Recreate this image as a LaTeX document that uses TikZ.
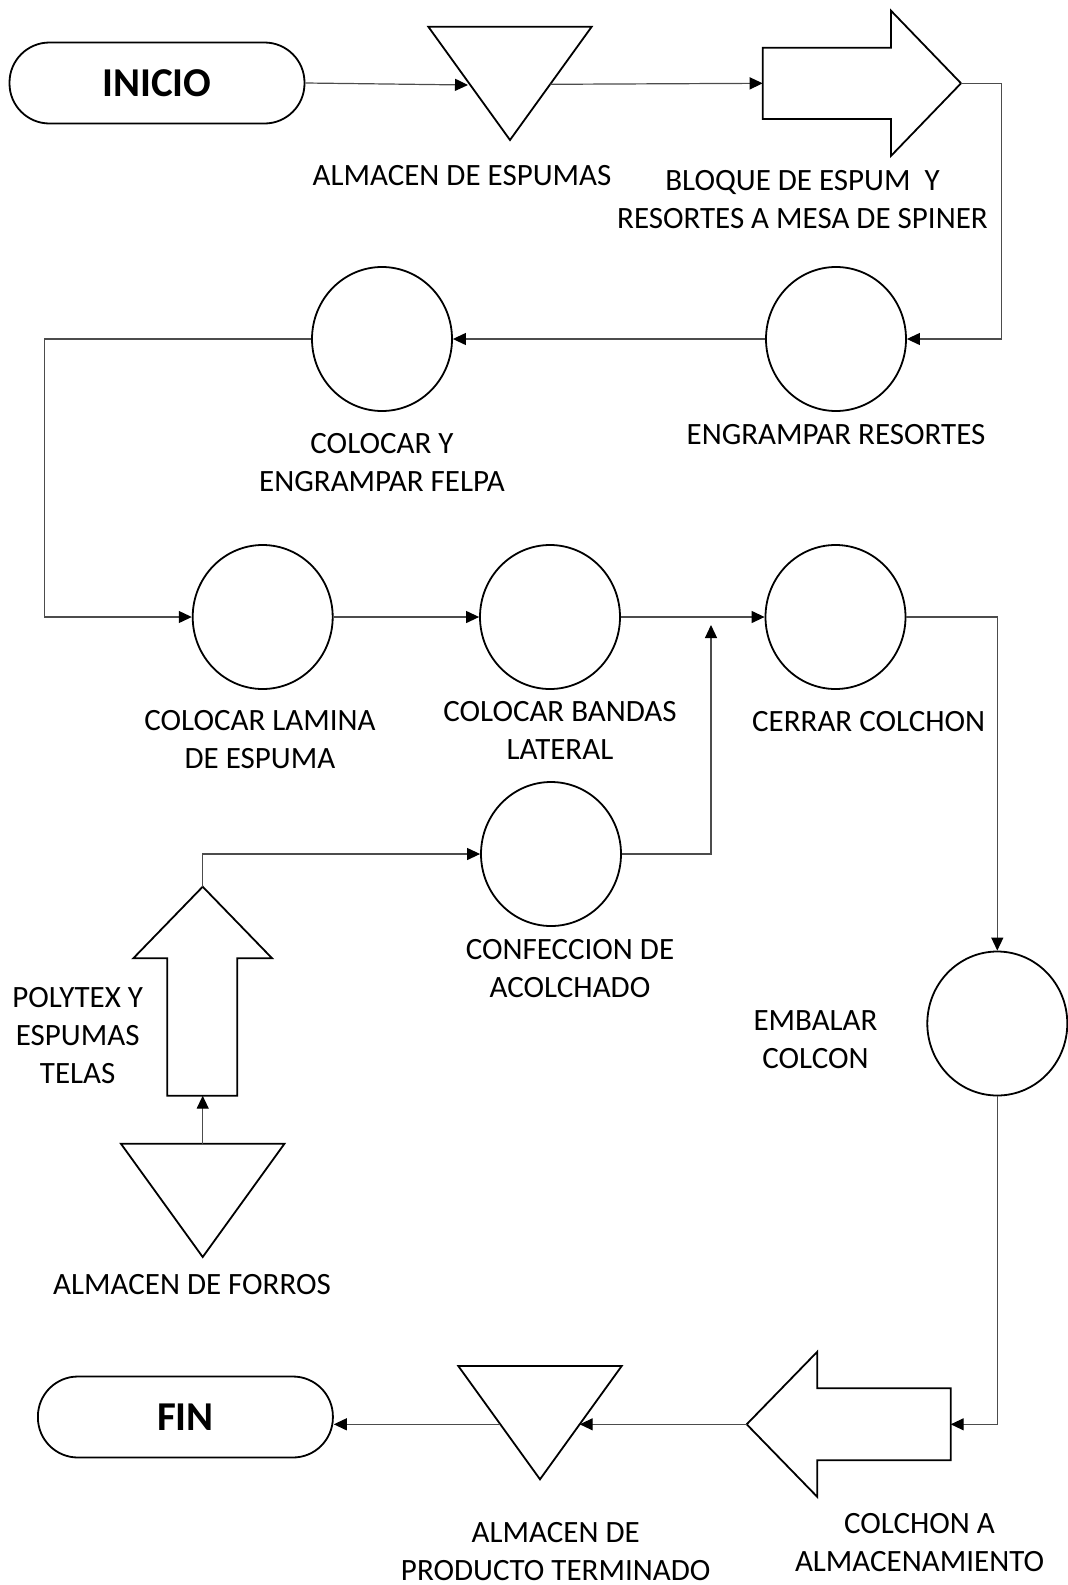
\documentclass[tikz,border=0pt]{standalone}
\usepackage{fontspec}
\setmainfont{Carlito}
\usetikzlibrary{arrows.meta,shapes.geometric}
\newcommand\labfont{\fontsize{31}{38}\selectfont}
\newcommand\twol[2]{\begin{tabular}[t]{@{}c@{}}#1\\#2\end{tabular}}
\begin{document}
\begin{tikzpicture}[x=1pt,y=-1pt,
  shapeline/.style={draw=black, line width=1.8pt, line join=miter},
  proc/.style={shapeline, ellipse, minimum width=140pt, minimum height=144pt, inner sep=0pt},
  term/.style={shapeline, rectangle, rounded corners=40pt, minimum width=295pt, minimum height=81pt, inner sep=0pt, font=\fontsize{41}{49}\selectfont\bfseries},
  lab/.style={font=\labfont, anchor=base, inner sep=0pt},
  conn/.style={draw=black!70, line width=1.2pt, -{Triangle[length=13pt,width=12pt,color=black]}},
]
\useasboundingbox (0,0) rectangle (1068,1585);

% terminals
\node[term] (inicio) at (157,83) {INICIO};
\node[term] (fin) at (185.4,1417) {FIN};

% process circles
\node[proc] (engr) at (836,339) {};
\node[proc] (felpa) at (382,339) {};
\node[proc] (lamina) at (262.7,617) {};
\node[proc] (bandas) at (550,617) {};
\node[proc] (cerrar) at (835.5,617) {};
\node[proc] (confec) at (551,854) {};
\node[proc] (embalar) at (997.3,1023.5) {};

% storage triangles
\draw[shapeline] (428.3,26.7) -- (591.7,26.7) -- (510,140) -- cycle;
\coordinate (t1in) at (468,85);
\coordinate (t1out) at (550.4,84.3);

\draw[shapeline] (458.3,1366) -- (621.7,1366) -- (540,1479.3) -- cycle;
\coordinate (t2in) at (579.7,1424.3);
\coordinate (t2out) at (500.3,1424.3);

\draw[shapeline] (121,1143.8) -- (284.4,1143.8) -- (202.7,1257) -- cycle;
\coordinate (t3out) at (202.7,1143.8);

% transport block arrows
\draw[shapeline] (762.7,47.7) -- (891,47.7) -- (891,10.7) -- (961,83.3) -- (891,155.9) -- (891,118.9) -- (762.7,118.9) -- cycle;
\coordinate (a1in) at (762.7,83.3);
\coordinate (a1tip) at (961,83.3);

\draw[shapeline] (950.7,1388.3) -- (817.3,1388.3) -- (817.3,1351.7) -- (746.7,1424.3) -- (817.3,1496.9) -- (817.3,1460.3) -- (950.7,1460.3) -- cycle;
\coordinate (a2in) at (950.7,1424.3);
\coordinate (a2tip) at (746.7,1424.3);

\draw[shapeline] (167.3,1095.7) -- (167.3,958.3) -- (133.3,958.3) -- (202.7,886.7) -- (272.1,958.3) -- (237.3,958.3) -- (237.3,1095.7) -- cycle;
\coordinate (a3in) at (202.7,1095.7);
\coordinate (a3tip) at (202.7,886.7);

\coordinate (join) at (711,625);

% connectors
\draw[conn] (inicio.east) -- (t1in);
\draw[conn] (t1out) -- (a1in);
\draw[conn] (a1tip) -- ++(40.7,0) |- (engr.east);
\draw[conn] (engr.west) -- (felpa.east);
\draw[conn] (felpa.west) -- ++(-267,0) |- (lamina.west);
\draw[conn] (lamina.east) -- (bandas.west);
\draw[conn] (bandas.east) -- (cerrar.west);
\draw[conn] (confec.east) -| (join);
\draw[conn] (cerrar.east) -| (embalar.north);
\draw[conn] (embalar.south) |- (a2in);
\draw[conn] (a2tip) -- (t2in);
\draw[conn] (t2out) -- (t2out -| fin.east);
\draw[conn] (t3out) -- (a3in);
\draw[conn] (a3tip) |- (confec.west);

% labels
\node[lab] (lalm) at (462,185) {ALMACEN DE ESPUMAS};
\node[lab] (lbloq) at (802.5,190) {\twol{BLOQUE DE ESPUM\ \ Y}{RESORTES A MESA DE SPINER}};
\node[lab] (lengr) at (836,444) {ENGRAMPAR RESORTES};
\node[lab] (lfelpa) at (382,453.3) {\twol{COLOCAR Y}{ENGRAMPAR FELPA}};
\node[lab] (llam) at (260,730) {\twol{COLOCAR LAMINA}{DE ESPUMA}};
\node[lab] (lband) at (560,721) {\twol{COLOCAR BANDAS}{LATERAL}};
\node[lab] (lcerr) at (868.7,731.7) {CERRAR COLCHON};
\node[lab] (lconf) at (570,959.5) {\twol{CONFECCION DE}{ACOLCHADO}};
\node[lab] (lemb) at (815.5,1030) {\twol{EMBALAR}{COLCON}};
\node[lab] (lpoly) at (77.7,1007.7) {\begin{tabular}[t]{@{}c@{}}POLYTEX Y\\ESPUMAS\\TELAS\end{tabular}};
\node[lab] (lforros) at (192,1294.5) {ALMACEN DE FORROS};
\node[lab] (lpt) at (555.7,1542) {\twol{ALMACEN DE}{PRODUCTO TERMINADO}};
\node[lab] (lcol) at (919.5,1533) {\twol{COLCHON A}{ALMACENAMIENTO}};
\end{tikzpicture}
\end{document}
